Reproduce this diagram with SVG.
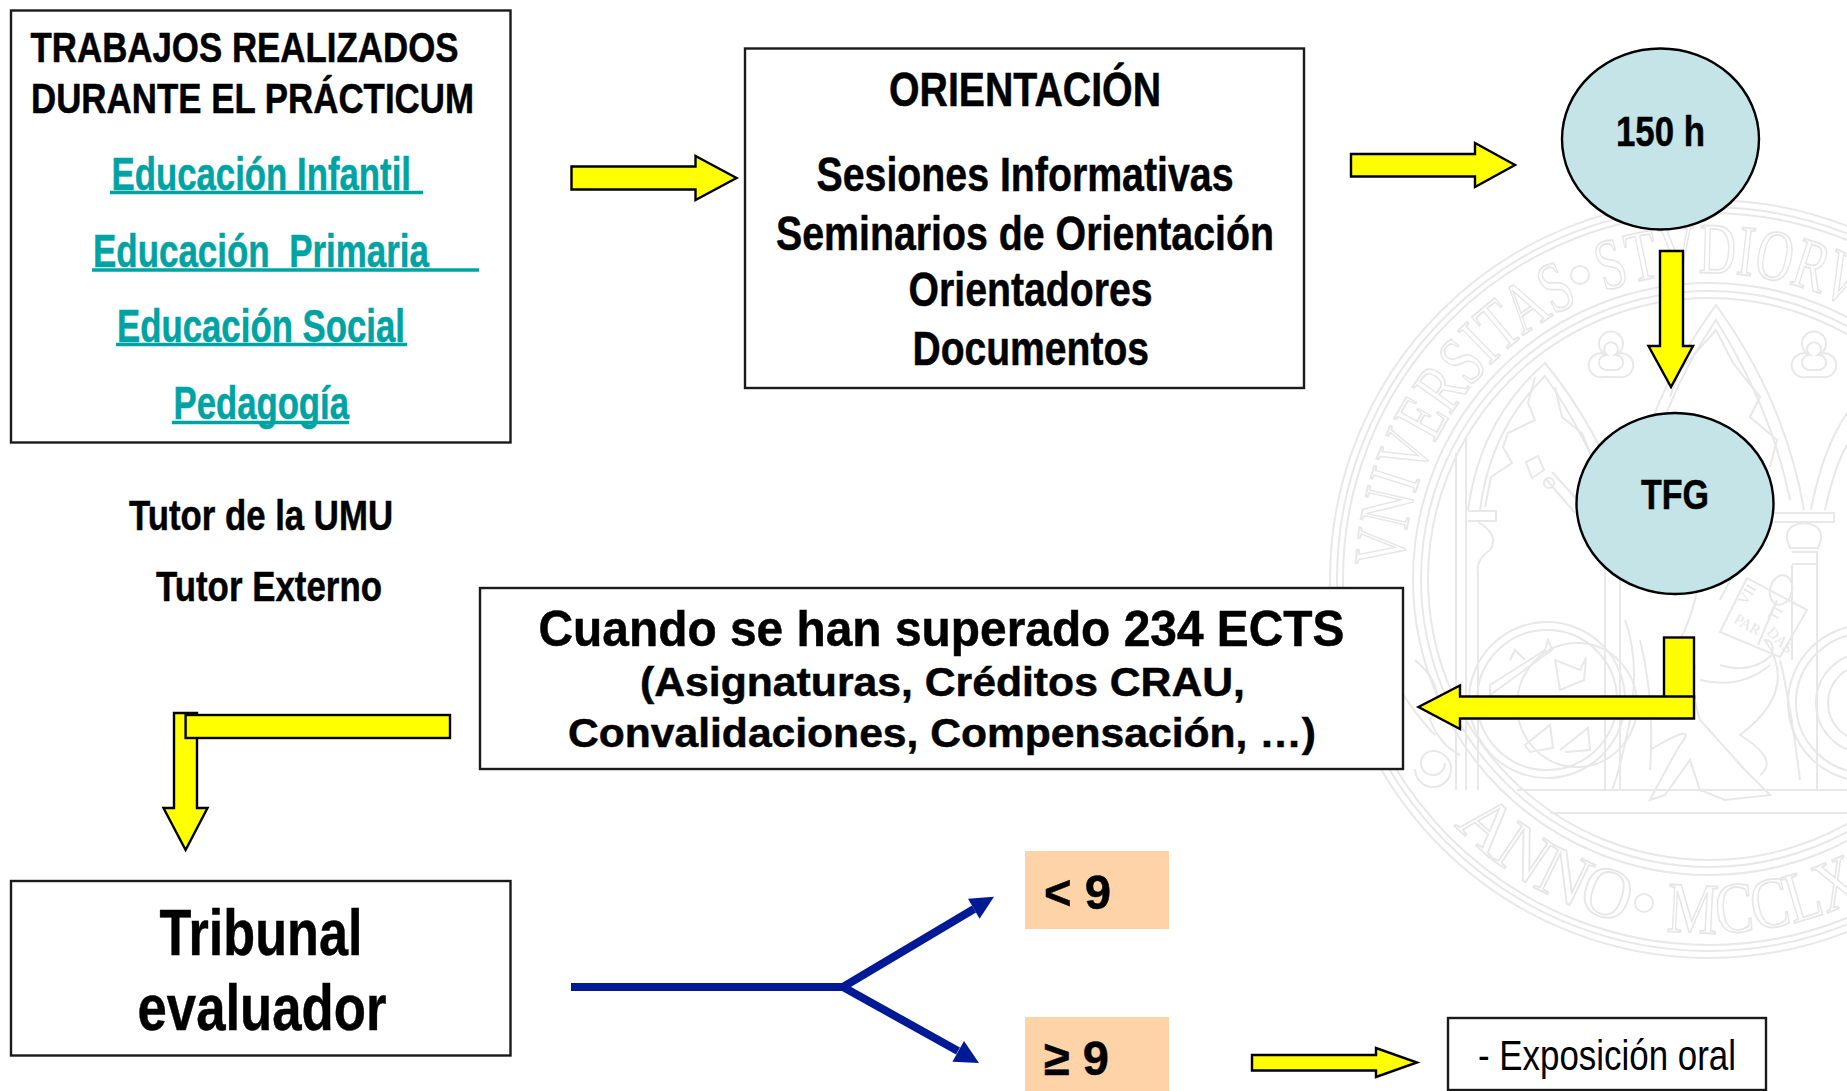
<svg xmlns="http://www.w3.org/2000/svg" width="1847" height="1091" viewBox="0 0 1847 1091">
<style>
.t{font-family:"Liberation Sans",Arial,sans-serif;font-weight:700;fill:#000;stroke:#000;stroke-width:.5;white-space:pre}
.n{font-family:"Liberation Sans",Arial,sans-serif;font-weight:400;fill:#000;white-space:pre}
.l{fill:#00a3a3;stroke:#00a3a3;font-size:46px}
.box{fill:#fff;stroke:#1a1a1a;stroke-width:2.4}
.el{fill:#c4e4e7;stroke:#000;stroke-width:2.4}
.ya{fill:#ff0;stroke:#000;stroke-width:2.4;stroke-linejoin:miter}
.ul{stroke:#00a3a3;stroke-width:3.5}
.pe{fill:#ffd3a8}
.bl{fill:none;stroke:#001a96;stroke-width:8}
.bh{fill:#001a96}
.s{fill:none;stroke:#e8e8e8;stroke-width:2}
.st{font-family:"Liberation Serif",serif;fill:#fff;stroke:#e6e6e6;stroke-width:1.8;font-size:72px}
.sb{font-family:"Liberation Serif",serif;fill:#e6e6e6;font-size:15px}
</style>
<defs>
<path id="arcTop" d="M1403.2 568.3A306 306 0 0 1 1888.9 331.4"/>
<path id="arcBot" d="M1454.4 824.9A354 354 0 0 0 1886 885.6"/>
<path id="tref" d="M-6 -4A12 12 0 1 1 6 -4A12 12 0 1 1 8 19H-8A12 12 0 1 1 -6 -4Z"/>
<path id="tref2" d="M-4 -3A7 7 0 1 1 4 -3A7 7 0 1 1 5 12H-5A7 7 0 1 1 -4 -3Z"/>
</defs>
<rect width="1847" height="1091" fill="#fff"/>
<g id="seal">
<circle class="s" cx="1709" cy="579" r="379"/><circle class="s" cx="1709" cy="579" r="372"/><circle class="s" cx="1709" cy="579" r="366"/>
<circle class="s" cx="1709" cy="579" r="296"/><circle class="s" cx="1709" cy="579" r="288"/><circle class="s" cx="1709" cy="579" r="281"/>
<text class="st"><textPath href="#arcTop" textLength="336" lengthAdjust="spacingAndGlyphs">VNIVERSITAS</textPath></text>
<text class="st"><textPath href="#arcTop" startOffset="363" textLength="299" lengthAdjust="spacingAndGlyphs">STVDIORVM</textPath></text>
<text class="st"><textPath href="#arcBot" textLength="198" lengthAdjust="spacingAndGlyphs">ANNO</textPath></text>
<text class="st"><textPath href="#arcBot" startOffset="241" textLength="204" lengthAdjust="spacingAndGlyphs">MCCLX</textPath></text>
<circle class="s" cx="1580" cy="275" r="9"/><circle class="s" cx="1644" cy="903" r="9"/>
<path class="s" d="M1468 510Q1480 420 1545 363Q1600 430 1625 510M1480 510Q1490 430 1545 376Q1590 440 1612 510"/>
<path class="s" d="M1535 377L1528 403L1535 420L1508 433L1503 447L1512 463L1491 477L1485 507M1555 387L1562 417L1582 433L1592 457"/>
<path class="s" d="M1630 510Q1640 410 1716 305Q1785 400 1804 510M1645 500Q1655 410 1716 320Q1772 410 1790 500"/>
<path class="s" d="M1670 397L1680 370L1716 330L1733 363L1760 397L1750 417L1777 440L1770 467"/>
<path class="s" d="M1811 510Q1822 450 1847 413M1825 510Q1835 465 1847 445"/>
<path class="s" d="M1456 453V790M1466 438V790M1468 511H1496V521H1468M1478 522Q1500 535 1490 550Q1475 560 1478 575V790M1774 513H1834V522H1774M1804 523Q1780 525 1790 548H1818Q1828 525 1804 523M1792 552H1817V564H1792"/>
<path class="s" d="M1605 570V790M1620 570V790M1792 565V660M1817 565V790"/>
<use href="#tref" class="s" x="1611" y="358"/><use href="#tref2" class="s" x="1611" y="358"/>
<use href="#tref" class="s" x="1814" y="358"/><use href="#tref2" class="s" x="1814" y="358"/>
<path class="s" d="M1526 462L1538 456L1544 470L1532 478ZM1545 478L1575 513M1552 472L1582 505"/><circle class="s" cx="1549" cy="483" r="5"/>
<circle class="s" cx="1547" cy="700" r="78"/><circle class="s" cx="1547" cy="700" r="70"/><ellipse class="s" cx="1577" cy="705" rx="60" ry="62"/>
<path class="s" d="M1490 685L1545 650L1548 640L1552 650L1490 695ZM1510 660L1515 650L1525 660M1555 660L1580 670L1586 658L1584 680L1560 690ZM1525 745L1550 725L1553 748L1530 752ZM1560 750L1588 728L1590 750L1565 752"/>
<circle class="s" cx="1866" cy="703" r="78"/><circle class="s" cx="1866" cy="703" r="70"/><circle class="s" cx="1866" cy="703" r="50"/><circle class="s" cx="1866" cy="703" r="38"/>
<path class="s" d="M1517 790H1847M1550 813H1847"/>
<path class="s" d="M1445 763a12 12 0 1 1 -12 -12a18 18 0 1 1 -18 18M1415 660Q1450 690 1430 720Q1440 745 1460 755M1400 690Q1420 720 1435 735"/>
<path class="s" d="M1625 620Q1640 660 1630 720Q1620 770 1612 790M1640 640Q1655 700 1650 770M1650 750Q1700 720 1680 745Q1660 780 1650 800L1665 795L1690 760L1700 790L1725 800L1770 795L1745 770L1700 720Q1690 690 1695 665M1720 665Q1750 675 1772 655Q1775 640 1765 640Q1800 690 1740 735Q1780 760 1760 775M1780 660Q1790 700 1800 780M1770 665Q1740 690 1700 680"/>
<path class="s" d="M1747 578L1720 632L1780 657L1807 610ZM1777 600L1758 645"/>
<ellipse class="s" cx="1781" cy="590" rx="11" ry="15" transform="rotate(15 1781 590)"/>
<path class="s" d="M1700 560Q1700 600 1680 640M1720 600L1740 560"/>
<text class="sb" transform="translate(1746 606) rotate(-60)">VII</text><text class="sb" transform="translate(1733 622) rotate(30)">PAR</text>
<text class="sb" transform="translate(1776 622) rotate(-60)">TI</text><text class="sb" transform="translate(1766 633) rotate(45)">DAS</text>
</g>
<g id="connectors">
<polygon class="ya" points="571.5,166.5 695.5,166.5 695.5,156 736.5,178 695.5,200 695.5,189.5 571.5,189.5"/>
<polygon class="ya" points="1351,154 1475,154 1475,143 1515,165 1475,187 1475,176.5 1351,176.5"/>
<polygon class="ya" points="1660,251 1683,251 1683,346 1693,346 1671,387 1648.5,346 1660,346"/>
<rect class="ya" x="1664" y="637.5" width="30" height="60"/>
<polygon class="ya" points="1694,696.5 1694,718.5 1460,718.5 1460,729 1418.5,707 1460,685.5 1460,696.5"/>
<polygon class="ya" points="174,713 197,713 197,808 207.5,808 185.6,850 163.5,808 174,808"/>
<rect class="ya" x="185.6" y="715" width="264.4" height="23"/>
<polygon class="ya" points="1252,1055 1376,1055 1376,1048 1417,1062.5 1376,1077 1376,1070.5 1252,1070.5"/>
<path class="bl" d="M571 987H843L974 909M843 987L958 1051"/>
<polygon class="bh" points="968,898.7 994,896.7 979.6,918.7"/>
<polygon class="bh" points="964,1041 979,1063 952.4,1061.7"/>
</g>
<g id="node-trabajos">
<rect class="box" x="11" y="10.5" width="499.5" height="432"/>
<text class="t" font-size="43" x="30.5" y="61.5" textLength="428" lengthAdjust="spacingAndGlyphs">TRABAJOS REALIZADOS</text>
<text class="t" font-size="43" x="31" y="112.5" textLength="443" lengthAdjust="spacingAndGlyphs">DURANTE EL PRÁCTICUM</text>
<text class="t l" x="111.5" y="190.2" textLength="299.5" lengthAdjust="spacingAndGlyphs">Educación Infantil</text><line class="ul" x1="110" y1="192.5" x2="423" y2="192.5"/>
<text class="t l" x="93" y="266.7" textLength="336" lengthAdjust="spacingAndGlyphs">Educación  Primaria</text><line class="ul" x1="92" y1="270" x2="479" y2="270"/>
<text class="t l" x="117" y="342.2" textLength="288" lengthAdjust="spacingAndGlyphs">Educación Social</text><line class="ul" x1="116" y1="344.5" x2="407" y2="344.5"/>
<text class="t l" x="173.5" y="419.2" textLength="175.5" lengthAdjust="spacingAndGlyphs">Pedagogía</text><line class="ul" x1="172" y1="422.5" x2="349" y2="422.5"/>
</g>
<g id="node-tutores">
<text class="t" font-size="43" x="129" y="529.5" textLength="264" lengthAdjust="spacingAndGlyphs">Tutor de la UMU</text>
<text class="t" font-size="43" x="156" y="600.5" textLength="226" lengthAdjust="spacingAndGlyphs">Tutor Externo</text>
</g>
<g id="node-orientacion">
<rect class="box" x="745" y="48.5" width="559" height="339.5"/>
<text class="t" font-size="49" x="889" y="105.5" textLength="272" lengthAdjust="spacingAndGlyphs">ORIENTACIÓN</text>
<text class="t" font-size="49" x="816.5" y="190.5" textLength="417" lengthAdjust="spacingAndGlyphs">Sesiones Informativas</text>
<text class="t" font-size="49" x="776" y="249.5" textLength="498" lengthAdjust="spacingAndGlyphs">Seminarios de Orientación</text>
<text class="t" font-size="49" x="908.5" y="305.5" textLength="244" lengthAdjust="spacingAndGlyphs">Orientadores</text>
<text class="t" font-size="49" x="912.5" y="364.5" textLength="236.5" lengthAdjust="spacingAndGlyphs">Documentos</text>
</g>
<g id="node-150h">
<ellipse class="el" cx="1660.5" cy="139" rx="98.5" ry="90.5"/>
<text class="t" font-size="43" x="1616" y="146" textLength="89" lengthAdjust="spacingAndGlyphs">150 h</text>
</g>
<g id="node-tfg">
<ellipse class="el" cx="1675" cy="503.5" rx="98.5" ry="90.5"/>
<text class="t" font-size="43" x="1641" y="509" textLength="68" lengthAdjust="spacingAndGlyphs">TFG</text>
</g>
<g id="node-ects">
<rect class="box" x="480" y="588" width="923" height="181"/>
<text class="t" font-size="50" x="538.5" y="645.5" textLength="806" lengthAdjust="spacingAndGlyphs">Cuando se han superado 234 ECTS</text>
<text class="t" font-size="41" x="640" y="696" textLength="605" lengthAdjust="spacingAndGlyphs">(Asignaturas, Créditos CRAU,</text>
<text class="t" font-size="41" x="568" y="747" textLength="748" lengthAdjust="spacingAndGlyphs">Convalidaciones, Compensación, …)</text>
</g>
<g id="node-tribunal">
<rect class="box" x="11" y="881" width="499.5" height="174.5"/>
<text class="t" font-size="65" x="159.5" y="955" textLength="203" lengthAdjust="spacingAndGlyphs">Tribunal</text>
<text class="t" font-size="65" x="137.5" y="1030" textLength="249" lengthAdjust="spacingAndGlyphs">evaluador</text>
</g>
<g id="node-lt9">
<rect class="pe" x="1025" y="851" width="144" height="78"/>
<text class="t" font-size="49" x="1044" y="909" textLength="67" lengthAdjust="spacingAndGlyphs">&lt; 9</text>
</g>
<g id="node-ge9">
<rect class="pe" x="1025" y="1017" width="144" height="74"/>
<text class="t" font-size="49" x="1044" y="1075" textLength="65" lengthAdjust="spacingAndGlyphs">≥ 9</text>
</g>
<g id="node-exposicion">
<rect class="box" x="1448" y="1018" width="318" height="72"/>
<text class="n" font-size="43" x="1478" y="1070" textLength="258" lengthAdjust="spacingAndGlyphs">- Exposición oral</text>
</g>
</svg>
